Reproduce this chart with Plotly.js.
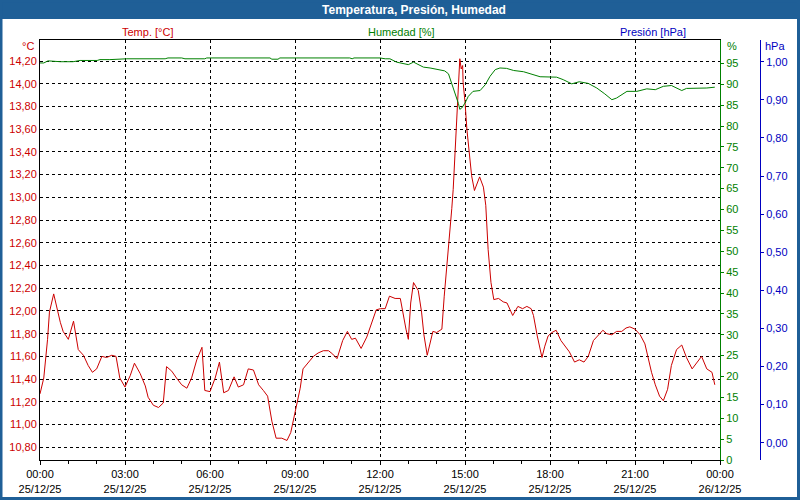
<!DOCTYPE html>
<html>
<head>
<meta charset="utf-8">
<script src="https://cdn.plot.ly/plotly-3.0.1.min.js"></script>
<style>html,body{margin:0;padding:0;background:#fff;}#chart{width:800px;height:500px;}</style>
</head>
<body>
<div id="chart"></div>
<script>
// ---- data (hours since 25/12/25 00:00) ----
const tempHours = [0.00,0.14,0.26,0.33,0.49,0.65,0.71,0.82,1.00,1.18,1.35,1.53,1.70,1.85,2.00,2.18,2.35,2.53,2.68,2.82,3.00,3.18,3.33,3.53,3.71,3.82,4.00,4.18,4.35,4.47,4.65,4.82,5.00,5.18,5.35,5.53,5.71,5.82,6.00,6.18,6.33,6.49,6.65,6.85,7.00,7.18,7.35,7.53,7.71,7.88,8.04,8.18,8.33,8.53,8.71,8.85,9.00,9.18,9.29,9.47,9.65,9.82,10.00,10.18,10.33,10.49,10.68,10.85,11.00,11.14,11.33,11.53,11.71,11.86,12.02,12.18,12.33,12.53,12.71,12.82,12.92,13.00,13.08,13.18,13.35,13.47,13.55,13.67,13.86,14.00,14.18,14.26,14.33,14.41,14.53,14.59,14.65,14.71,14.76,14.82,14.86,14.91,14.94,15.00,15.06,15.15,15.24,15.33,15.41,15.51,15.65,15.73,15.82,15.92,16.02,16.18,16.35,16.49,16.68,16.86,17.04,17.18,17.33,17.41,17.55,17.71,17.82,17.94,18.06,18.21,18.38,18.53,18.68,18.86,19.03,19.20,19.35,19.53,19.70,19.86,20.00,20.18,20.35,20.53,20.68,20.82,21.00,21.18,21.35,21.47,21.59,21.71,21.86,22.00,22.15,22.29,22.47,22.65,22.82,23.02,23.18,23.35,23.53,23.71,23.82];
const tempValues = [11.27,11.41,11.75,11.99,12.15,11.97,11.90,11.82,11.75,11.91,11.66,11.61,11.52,11.46,11.49,11.60,11.59,11.61,11.60,11.41,11.33,11.43,11.54,11.45,11.34,11.24,11.17,11.15,11.19,11.51,11.47,11.41,11.35,11.32,11.41,11.57,11.68,11.30,11.29,11.41,11.55,11.28,11.30,11.42,11.33,11.35,11.49,11.48,11.35,11.30,11.25,11.03,10.88,10.88,10.86,10.93,11.11,11.32,11.49,11.55,11.60,11.63,11.65,11.65,11.62,11.58,11.74,11.82,11.75,11.76,11.67,11.77,11.90,12.01,12.02,12.02,12.13,12.11,12.11,11.96,11.84,11.75,12.07,12.25,12.18,11.99,11.79,11.61,11.82,11.81,11.84,12.13,12.31,12.54,12.90,13.07,13.42,13.78,14.04,14.22,14.13,14.16,14.01,13.84,13.60,13.40,13.19,13.06,13.12,13.18,13.09,12.93,12.54,12.25,12.10,12.11,12.08,12.07,11.96,12.04,12.02,12.04,12.02,11.96,11.78,11.59,11.69,11.78,11.81,11.83,11.74,11.69,11.64,11.55,11.57,11.55,11.60,11.74,11.79,11.83,11.80,11.79,11.82,11.82,11.85,11.86,11.84,11.79,11.71,11.57,11.46,11.35,11.25,11.21,11.31,11.52,11.66,11.70,11.59,11.49,11.54,11.60,11.49,11.46,11.35];

const humHours = [0.00,0.14,0.28,0.71,1.16,1.41,2.01,2.12,2.47,3.07,4.41,4.52,5.00,5.12,5.82,5.89,8.12,8.19,8.40,8.47,10.94,11.01,11.08,12.00,12.18,12.35,12.59,12.82,13.00,13.18,13.35,13.53,13.76,14.06,14.29,14.41,14.53,14.65,14.76,14.82,14.88,15.00,15.12,15.29,15.53,15.71,15.88,16.06,16.24,16.47,16.71,17.06,17.29,17.65,18.24,18.47,18.77,19.04,19.35,19.65,19.94,20.18,20.35,20.71,21.06,21.41,21.71,22.00,22.29,22.47,22.65,22.82,23.18,23.53,23.82];
const humValues = [95.1,95.1,95.6,95.4,95.4,95.7,95.7,95.9,95.9,96.1,96.1,96.3,96.3,96.1,96.1,96.3,96.3,96.0,96.0,96.3,96.3,96.1,96.3,96.3,96.1,96.1,95.3,94.9,94.7,95.3,94.7,94.1,93.9,93.5,93.2,92.5,90.2,87.8,85.4,84.0,84.3,85.5,87.1,88.3,88.5,89.9,91.9,93.5,93.9,93.8,93.3,93.0,92.5,91.8,91.7,91.1,90.1,90.6,90.2,89.1,87.7,86.3,86.7,88.3,88.3,88.9,88.7,89.5,89.7,89.1,88.5,89.0,89.0,89.1,89.3];

const presHours = [];
const presValues = [];

const humTicks = [0,5,10,15,20,25,30,35,40,45,50,55,60,65,70,75,80,85,90,95];
const presTicks = [0,0.1,0.2,0.3,0.4,0.5,0.6,0.7,0.8,0.9,1.0];

const seriesNames = ['Temp. [°C]', 'Humedad [%]', 'Presión [hPa]'];
const unitLabels = ['°C', '%', 'hPa'];
const chartTitle = 'Temperatura, Presión, Humedad';
const dayStart = '2025-12-25 00:00';
const dayEnd = '2025-12-26 00:00';

// ---- helpers ----
const base = Date.UTC(2025, 11, 25);
function toTime(h) {
  const d = new Date(base + Math.round(h * 60) * 60000);
  return d.toISOString().slice(0, 16).replace('T', ' ');
}

const RED = '#cc0000', GREEN = '#008000', BLUE = '#0000c0', BAR = '#1f5f97';
const FONT = 'Liberation Sans, Arial, sans-serif';

const W = 800, H = 500, ML = 40, MR = 0, MT = 40, MB = 40;
const PW = W - ML - MR, PH = H - MT - MB;
const px = x => (x - ML) / PW;
const py = y => (H - MB - y) / PH;

const traces = [
  {x: tempHours.map(toTime), y: tempValues, type: 'scatter', mode: 'lines', name: seriesNames[0],
   line: {color: RED, width: 1}, yaxis: 'y', hoverinfo: 'skip'},
  {x: humHours.map(toTime), y: humValues, type: 'scatter', mode: 'lines', name: seriesNames[1],
   line: {color: GREEN, width: 1}, yaxis: 'y2', hoverinfo: 'skip'},
  {x: presHours.map(toTime), y: presValues, type: 'scatter', mode: 'lines', name: seriesNames[2],
   line: {color: BLUE, width: 1}, yaxis: 'y3', hoverinfo: 'skip'}
];

const layout = {
  width: W, height: H,
  margin: {l: ML, r: MR, t: MT, b: MB, pad: 0},
  paper_bgcolor: '#ffffff', plot_bgcolor: '#ffffff',
  showlegend: false,
  separators: ',.',
  font: {family: FONT, size: 11, color: '#000'},
  title: {text: '<b>' + chartTitle + '</b>', font: {family: FONT, size: 12, color: '#ffffff'},
          x: 414 / W, xref: 'container', xanchor: 'center', y: 1 - 10 / H, yref: 'container', yanchor: 'middle'},
  xaxis: {
    type: 'date', domain: [0, 680 / PW], range: [dayStart, dayEnd],
    dtick: 3 * 3600000, tick0: dayStart, tickformat: '%H:%M<br>%d/%m/%y',
    showgrid: true, gridcolor: '#000', gridwidth: 1, griddash: '3px,3px',
    showline: true, linecolor: '#000', linewidth: 1, mirror: true,
    ticks: 'outside', ticklen: 4, tickcolor: '#000',
    minor: {dtick: 3600000, ticks: 'outside', ticklen: 3, tickcolor: '#000', showgrid: false},
    tickfont: {family: FONT, size: 11, color: '#000'}, zeroline: false
  },
  yaxis: {
    range: [10.688, 14.385], tick0: 10.8, dtick: 0.2, tickformat: '.2f',
    showgrid: true, gridcolor: '#000', gridwidth: 1, griddash: '3px,3px',
    showline: true, linecolor: '#000', linewidth: 1, ticks: '', zeroline: false,
    tickfont: {family: FONT, size: 11, color: RED}
  },
  yaxis2: {
    overlaying: 'y', side: 'right', anchor: 'x', range: [0, 100.6],
    tickmode: 'array', tickvals: humTicks, ticktext: humTicks.map(String),
    showgrid: false, zeroline: false, showline: true, linecolor: GREEN, linewidth: 1,
    ticks: 'outside', ticklen: 3, tickcolor: GREEN,
    tickfont: {family: FONT, size: 11, color: GREEN}
  },
  yaxis3: {
    overlaying: 'y', side: 'right', anchor: 'free', position: px(760),
    range: [-0.0454, 1.057], tickmode: 'array', tickvals: presTicks, tickformat: '.2f',
    showgrid: false, zeroline: false, showline: true, linecolor: BLUE, linewidth: 1,
    ticks: 'outside', ticklen: 3, tickcolor: BLUE,
    tickfont: {family: FONT, size: 11, color: BLUE}
  },
  shapes: [
    {type: 'rect', xref: 'paper', yref: 'paper', x0: px(0), x1: px(800), y0: py(19), y1: py(0),
     fillcolor: BAR, line: {width: 0}, layer: 'above'},
    {type: 'rect', xref: 'paper', yref: 'paper', x0: px(1), x1: px(798.5), y0: py(498.5), y1: py(1),
     fillcolor: 'rgba(0,0,0,0)', line: {color: BAR, width: 3}, layer: 'above'}
  ],
  annotations: [
    {text: seriesNames[0], xref: 'paper', yref: 'paper', x: px(147), y: py(32), xanchor: 'center', yanchor: 'middle', showarrow: false, font: {color: RED, size: 11}},
    {text: seriesNames[1], xref: 'paper', yref: 'paper', x: px(401), y: py(32), xanchor: 'center', yanchor: 'middle', showarrow: false, font: {color: GREEN, size: 11}},
    {text: seriesNames[2], xref: 'paper', yref: 'paper', x: px(653), y: py(32), xanchor: 'center', yanchor: 'middle', showarrow: false, font: {color: BLUE, size: 11}},
    {text: unitLabels[0], xref: 'paper', yref: 'paper', x: px(36), y: py(46), xanchor: 'right', yanchor: 'middle', showarrow: false, font: {color: RED, size: 11}},
    {text: unitLabels[1], xref: 'paper', yref: 'paper', x: px(725), y: py(46), xanchor: 'left', yanchor: 'middle', showarrow: false, font: {color: GREEN, size: 11}},
    {text: unitLabels[2], xref: 'paper', yref: 'paper', x: px(763), y: py(46), xanchor: 'left', yanchor: 'middle', showarrow: false, font: {color: BLUE, size: 11}}
  ]
};

Plotly.newPlot('chart', traces, layout, {staticPlot: true, displayModeBar: false});
</script>
</body>
</html>
